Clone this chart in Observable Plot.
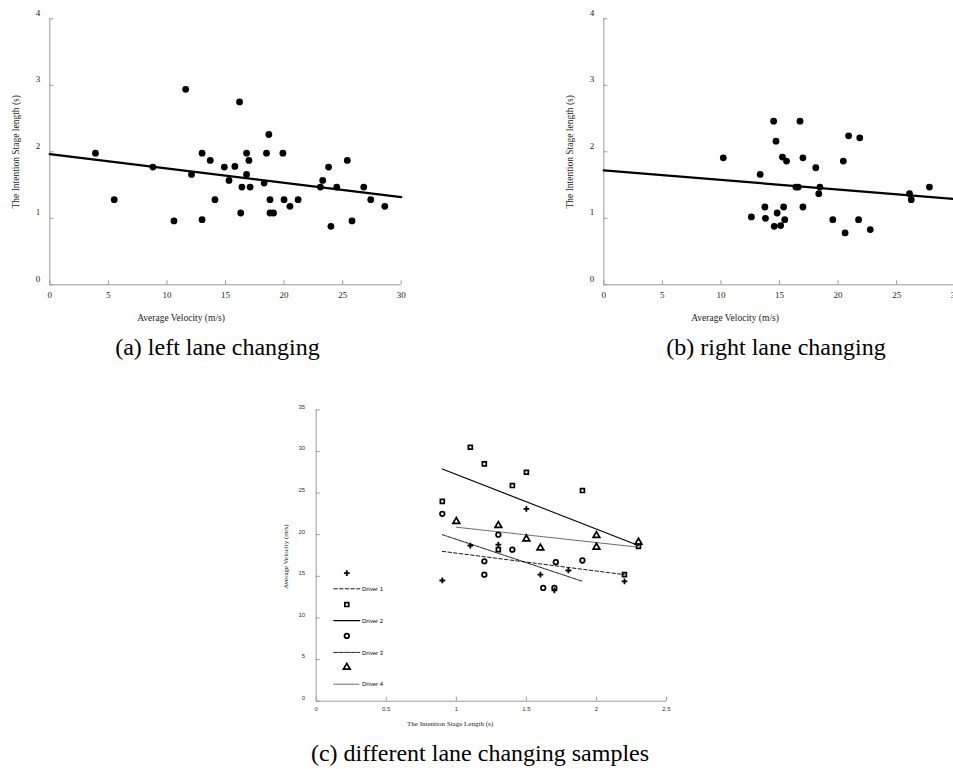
<!DOCTYPE html>
<html><head><meta charset="utf-8">
<script src="https://cdn.jsdelivr.net/npm/d3@7"></script>
<script src="https://cdn.jsdelivr.net/npm/@observablehq/plot@0.6"></script>
<style>
html,body{margin:0;padding:0;background:#fff;}
#page{position:relative;width:953px;height:769px;overflow:hidden;background:#fff;}
#page svg{position:absolute;overflow:visible;background:transparent;}
.cap{position:absolute;font-family:"Liberation Serif","Times New Roman",serif;font-size:24px;line-height:24px;color:#000;white-space:nowrap;transform:translateX(-50%);}
</style></head><body><div id="page"></div>
<script>
// ---------- data: (a) left lane changing ----------
const leftVel = [3.9,5.5,8.8,10.6,11.6,12.1,13.0,13.0,13.7,14.1,14.9,15.3,15.8,16.2,16.4,16.3,16.8,16.8,17.0,17.1,18.3,18.5,18.7,18.8,18.8,19.1,19.9,20.0,20.5,21.2,23.1,23.3,23.8,24.0,24.5,25.4,25.8,26.8,27.4,28.6];
const leftLen = [1.98,1.28,1.77,0.96,2.94,1.66,1.98,0.98,1.87,1.28,1.77,1.57,1.78,2.75,1.47,1.08,1.98,1.66,1.87,1.47,1.53,1.98,2.26,1.28,1.08,1.08,1.98,1.28,1.18,1.28,1.47,1.57,1.77,0.88,1.47,1.87,0.96,1.47,1.28,1.18];
const leftFitVel = [0, 30];
const leftFitLen = [1.965, 1.32];
// ---------- data: (b) right lane changing ----------
const rightVel = [10.2,12.6,13.35,13.75,13.8,14.5,14.55,14.7,14.8,15.1,15.25,15.35,15.45,15.6,16.4,16.6,16.75,17.0,17.0,18.1,18.35,18.45,19.55,20.45,20.6,20.9,21.75,21.85,22.75,26.1,26.25,27.8];
const rightLen = [1.91,1.02,1.66,1.17,1.00,2.46,0.88,2.16,1.08,0.89,1.92,1.17,0.98,1.86,1.47,1.47,2.46,1.91,1.17,1.76,1.37,1.47,0.98,1.86,0.78,2.24,0.98,2.21,0.83,1.37,1.28,1.47];
const rightFitVel = [0, 30];
const rightFitLen = [1.72, 1.29];
const abVelTicks = [0,5,10,15,20,25,30];
const abLenTicks = [0,1,2,3,4];
// ---------- data: (c) different lane changing samples ----------
const drivers = ["Driver 1","Driver 2","Driver 3","Driver 4"];
const d1Len = [0.9,1.1,1.3,1.5,1.6,1.7,1.8,2.2];
const d1Vel = [14.5,18.7,18.8,23.1,15.2,13.3,15.7,14.4];
const d2Len = [0.9,1.1,1.2,1.3,1.4,1.5,1.9,2.2,2.3];
const d2Vel = [24.0,30.5,28.5,18.2,25.9,27.5,25.3,15.2,18.6];
const d3Len = [0.9,1.2,1.2,1.3,1.4,1.62,1.7,1.71,1.9];
const d3Vel = [22.5,16.8,15.2,20.0,18.2,13.6,13.6,16.7,16.9];
const d4Len = [1.0,1.3,1.5,1.6,2.0,2.0,2.3];
const d4Vel = [21.6,21.1,19.5,18.4,19.9,18.5,19.1];
const fitLen = [[0.9,2.2],[0.9,2.3],[0.9,1.9],[1.0,2.3]];
const fitVel = [[18.0,15.2],[27.9,18.7],[20.0,14.4],[20.9,18.5]];
const cLenTicks = [0,0.5,1,1.5,2,2.5];
const cVelTicks = [0,5,10,15,20,25,30,35];

// ---------- styles ----------
const serif = '"Liberation Serif","Times New Roman",serif';
const sans = '"Liberation Sans",Arial,sans-serif';
const axisGray = "#9a9a9a";
const symbols = ["plus","square","circle","triangle"];
const symR = [2.0, 2.2, 2.3, 2.5];
const dashes = ["3.5,2.2", null, "3,1,1,1", "1,1"];
const hline = {draw(context, l) { context.moveTo(0, 0); context.lineTo(0, -l); }};

const page = document.getElementById("page");
const zip = (xs, ys) => xs.map((x, i) => ({x, y: ys[i]}));

function scatter(vel, len, fVel, fLen, left) {
  const p = Plot.plot({
    width: 430, height: 330,
    marginLeft: 49.3, marginRight: 29.3, marginTop: 18.3, marginBottom: 45.7,
    style: {fontFamily: serif, background: "transparent", overflow: "visible"},
    x: {domain: [0, 30]},
    y: {domain: [0, 4]},
    marks: [
      Plot.ruleX([0], {stroke: axisGray}),
      Plot.ruleY([0], {stroke: axisGray}),
      Plot.axisX(abVelTicks, {tickSize: -4, tickPadding: 10.8, stroke: axisGray, fill: "#222", fontSize: 9, fontFamily: serif, label: null, tickFormat: d => String(d)}),
      Plot.axisY(abLenTicks, {tickSize: -4, stroke: axisGray, label: null, tickFormat: () => ""}),
      Plot.axisY(abLenTicks, {tickSize: 0, tickPadding: 9.5, dy: -6, fill: "#222", fontSize: 9, fontFamily: serif, label: null, tickFormat: d => String(d)}),
      Plot.line(zip(fVel, fLen), {x: "x", y: "y", stroke: "black", strokeWidth: 2.3}),
      Plot.dot(zip(vel, len), {x: "x", y: "y", r: 3.4, fill: "black", stroke: "none"}),
      Plot.text(["Average Velocity (m/s)"], {frameAnchor: "bottom", dx: -44.5, dy: 35.7, fontSize: 9.5, fontFamily: serif, fill: "#222"}),
      Plot.text(["The Intention Stage length (s)"], {frameAnchor: "left", rotate: -90, dx: -34.3, dy: 56.7, fontSize: 9.5, fontFamily: serif, fill: "#222"})
    ]
  });
  p.style.left = left + "px";
  p.style.top = "0px";
  page.appendChild(p);
}
scatter(leftVel, leftLen, leftFitVel, leftFitLen, 0);
scatter(rightVel, rightLen, rightFitVel, rightFitLen, 554.4);

// ---------- chart (c) ----------
const pts = [zip(d1Len, d1Vel), zip(d2Len, d2Vel), zip(d3Len, d3Vel), zip(d4Len, d4Vel)];
const marksC = [
  Plot.ruleX([0], {stroke: axisGray}),
  Plot.ruleY([0], {stroke: axisGray}),
  Plot.axisX(cLenTicks, {tickSize: -4, tickPadding: 9.1, stroke: axisGray, fill: "#333", fontSize: 6, fontFamily: sans, label: null, tickFormat: d => String(d)}),
  Plot.axisY(cVelTicks, {tickSize: -4, stroke: axisGray, label: null, tickFormat: () => ""}),
  Plot.axisY(cVelTicks, {tickSize: 0, tickPadding: 11, dy: -3, fill: "#333", fontSize: 6, fontFamily: sans, label: null, tickFormat: d => String(d)}),
  Plot.text(["The Intention Stage Length (s)"], {frameAnchor: "bottom", dx: -41.3, dy: 24.3, fontSize: 7, fontFamily: serif, fill: "#222"}),
  Plot.text(["Average Velocity (m/s)"], {frameAnchor: "left", rotate: -90, dx: -30.7, dy: 33.5, fontSize: 7, fontFamily: serif, fill: "#222"})
];
drivers.forEach((name, i) => {
  const sw = i === 1 ? 1.1 : 0.9;
  marksC.push(Plot.line(zip(fitLen[i], fitVel[i]), {x: "x", y: "y", stroke: i === 3 ? "#444" : "black", strokeWidth: sw, strokeDasharray: dashes[i]}));
  const symStyle = {symbol: symbols[i], r: symR[i], stroke: "black", strokeWidth: i === 0 ? 1.8 : 1.7, fill: "none"};
  marksC.push(Plot.dot(pts[i], {x: "x", y: "y", ...symStyle}));
  // legend entry
  marksC.push(Plot.dot([name], {frameAnchor: "top-left", dx: 30.6, dy: 163.4 + i * 31.35, ...symStyle}));
  marksC.push(Plot.vector([name], {frameAnchor: "top-left", dx: 17.6, dy: 179 + i * 31.8, length: 26, rotate: 90, anchor: "start", shape: hline, stroke: i === 3 ? "#444" : "black", strokeWidth: sw, strokeDasharray: dashes[i]}));
  marksC.push(Plot.text([name], {frameAnchor: "top-left", dx: 45.8, dy: 177 + i * 31.8, textAnchor: "start", fontSize: 6, fontFamily: sans, fill: "black"}));
});
const pc = Plot.plot({
  width: 430, height: 340,
  marginLeft: 55.7, marginRight: 24, marginTop: 14.3, marginBottom: 34.3,
  style: {fontFamily: sans, background: "transparent", overflow: "visible"},
  x: {domain: [0, 2.5]},
  y: {domain: [0, 35]},
  marks: marksC
});
pc.style.left = "260px";
pc.style.top = "395px";
page.appendChild(pc);

// ---------- captions ----------
const caps = [["(a) left lane changing", 217.5, 335], ["(b) right lane changing", 776, 335], ["(c) different lane changing samples", 480, 741]];
caps.forEach(([t, x, y]) => {
  const d = document.createElement("div");
  d.className = "cap";
  d.textContent = t;
  d.style.left = x + "px";
  d.style.top = y + "px";
  page.appendChild(d);
});
</script>
</body></html>
